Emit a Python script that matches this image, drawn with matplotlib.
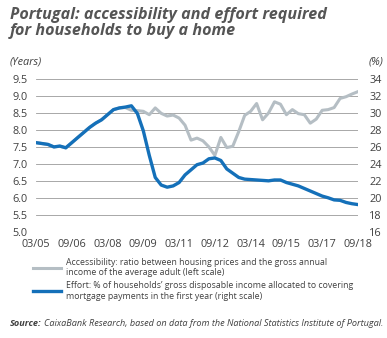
import matplotlib
matplotlib.use('Agg')
import matplotlib.pyplot as plt

# quarterly, 03/05 .. 09/18 (months since 03/05)
months = list(range(0, 163, 3))
accessibility = [7.63, 7.60, 7.57, 7.50, 7.52, 7.47, 7.62, 7.78, 7.93, 8.08,
                 8.20, 8.30, 8.45, 8.60, 8.65, 8.66, 8.58, 8.57, 8.55, 8.45,
                 8.65, 8.49, 8.41, 8.44, 8.35, 8.14, 7.70, 7.76, 7.68, 7.50,
                 7.25, 7.78, 7.48, 7.52, 7.95, 8.43, 8.55, 8.78, 8.30, 8.50,
                 8.83, 8.76, 8.45, 8.60, 8.48, 8.45, 8.20, 8.32, 8.58, 8.60,
                 8.66, 8.93, 8.98, 9.06, 9.13]
effort = [26.5, 26.4, 26.3, 26.0, 26.1, 25.9, 26.5, 27.1, 27.7, 28.3,
          28.8, 29.2, 29.8, 30.4, 30.6, 30.7, 30.85, 29.95, 27.9, 25.0,
          22.4, 21.5, 21.25, 21.4, 21.8, 22.7, 23.3, 23.9, 24.1, 24.6,
          24.7, 24.4, 23.4, 22.9, 22.4, 22.2, 22.15, 22.1, 22.05, 22.0,
          22.1, 22.1, 21.8, 21.6, 21.4, 21.1, 20.8, 20.5, 20.2, 20.0,
          19.75, 19.7, 19.45, 19.3, 19.2]
tick_months = [0, 18, 36, 54, 72, 90, 108, 126, 144, 162]
tick_labels = ['03/05', '09/06', '03/08', '09/09', '03/11', '09/12',
               '03/14', '09/15', '03/17', '09/18']
left_ticks = [5.0, 5.5, 6.0, 6.5, 7.0, 7.5, 8.0, 8.5, 9.0, 9.5]
right_ticks = [16, 18, 20, 22, 24, 26, 28, 30, 32, 34]

plt.rcParams['font.family'] = ['Open Sans', 'DejaVu Sans']
gray = '#b5bec4'
blue = '#1470b9'
txt = '#404040'

fig = plt.figure(figsize=(3.87, 3.38), dpi=100)
ax = fig.add_axes([0.093, 0.3145, 0.832, 0.4515])
ax2 = ax.twinx()

ax.set_xlim(0, 162)
ax.set_ylim(5.0, 9.5)
ax2.set_ylim(16, 34)
ax.set_yticks(left_ticks)
ax.set_yticklabels([f'{v:.1f}' for v in left_ticks])
ax2.set_yticks(right_ticks)
ax.set_xticks(tick_months)
ax.set_xticklabels(tick_labels)

for a in (ax, ax2):
    for s in a.spines.values():
        s.set_visible(False)
    a.tick_params(length=0, labelsize=7.8, colors=txt)
ax.tick_params(axis='y', pad=6)
ax2.tick_params(axis='y', pad=8)
ax.tick_params(axis='x', pad=5)
ax.grid(axis='y', color='#9a9a9a', linewidth=0.6)
ax.set_axisbelow(True)

l1, = ax.plot(months, accessibility, color=gray, lw=2.2, solid_joinstyle='round')
l2, = ax2.plot(months, effort, color=blue, lw=2.4, solid_joinstyle='round')

fig.text(0.026, 0.978, 'Portugal: accessibility and effort required\nfor households to buy a home',
         fontsize=11.6, fontweight='bold', fontstyle='italic', color='#555555',
         va='top', ha='left', linespacing=0.95)
fig.text(0.026, 0.817, '(Years)', fontsize=7.8, fontstyle='italic', color=txt, va='center')
fig.text(0.99, 0.817, '(%)', fontsize=7.8, fontstyle='italic', color=txt, va='center', ha='right')

fig.legend([l1, l2],
           ['Accessibility: ratio between housing prices and the gross annual\nincome of the average adult (left scale)',
            'Effort: % of households\u2019 gross disposable income allocated to covering\nmortgage payments in the first year (right scale)'],
           loc='upper left', bbox_to_anchor=(0.085, 0.237), frameon=False, fontsize=6.35,
           handlelength=3.2, handletextpad=0.6, labelspacing=0.45, labelcolor=txt,
           borderaxespad=0, borderpad=0)

src = fig.text(0.026, 0.036, 'Source:', fontsize=6.6, fontweight='bold',
               fontstyle='italic', color=txt)
fig.canvas.draw()
bb = src.get_window_extent().transformed(fig.transFigure.inverted())
fig.text(bb.x1 + 0.006, 0.036,
         'CaixaBank Research, based on data from the National Statistics Institute of Portugal.',
         fontsize=6.6, fontstyle='italic', color=txt)

fig.savefig('out.png', dpi=100, facecolor='white')
